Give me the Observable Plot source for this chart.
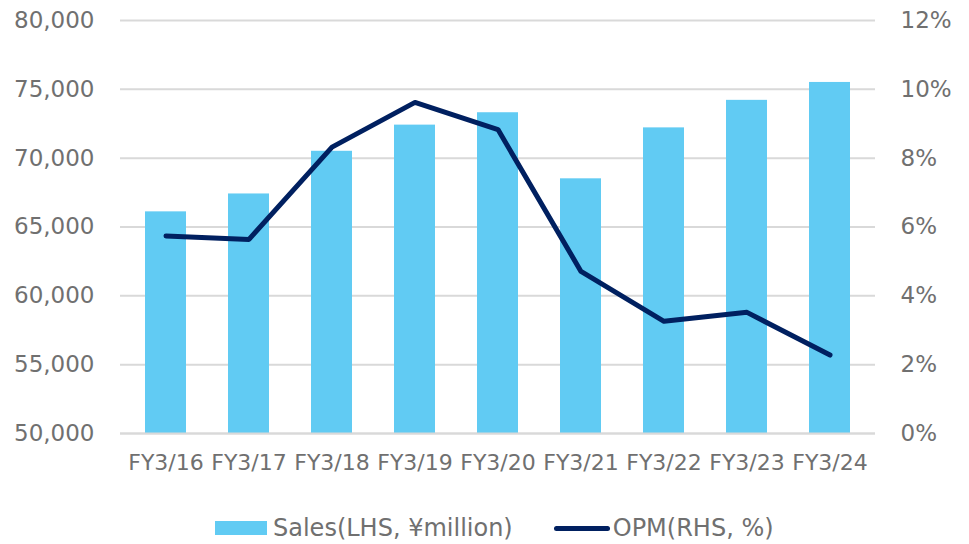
<!DOCTYPE html>
<html>
<head>
<meta charset="utf-8">
<script src="https://cdn.jsdelivr.net/npm/d3@7"></script>
<script src="https://cdn.jsdelivr.net/npm/@observablehq/plot@0.6"></script>
<style>
  html, body { margin: 0; padding: 0; background: #fff; }
  body { width: 969px; height: 544px; overflow: hidden; font-family: "DejaVu Sans", Verdana, sans-serif; }
  #chart { height: 490px; }
  #legend { display: flex; justify-content: flex-start; align-items: center; box-sizing: border-box; height: 54px; padding-top: 22px; padding-left: 215px; font-size: 24px; line-height: 30px; color: #707070; }
  .item { display: flex; align-items: center; }
  .sw-bar { width: 52px; height: 14px; background: #61cbf3; margin-right: 6px; }
  .sw-line { width: 56px; height: 5px; background: #002060; border-radius: 3px; margin-right: 3px; margin-left: 41px; }
</style>
</head>
<body>
<div id="chart"></div>
<div id="legend">
  <div class="item"><span class="sw-bar"></span><span>Sales(LHS, ¥million)</span></div>
  <div class="item"><span class="sw-line"></span><span>OPM(RHS, %)</span></div>
</div>
<script>
const categories = ["FY3/16","FY3/17","FY3/18","FY3/19","FY3/20","FY3/21","FY3/22","FY3/23","FY3/24"];
const sales = [66100, 67400, 70500, 72400, 73300, 68500, 72200, 74200, 75500];
const opm = [5.74, 5.64, 8.32, 9.62, 8.83, 4.71, 3.26, 3.52, 2.28];
const leftTicks = [50000, 55000, 60000, 65000, 70000, 75000, 80000];
const rightTicks = [0, 2, 4, 6, 8, 10, 12];

const yMin = 50000, yMax = 80000, pMax = 12;
const toY = p => yMin + p * (yMax - yMin) / pMax;

const rows = categories.map((c, i) => ({cat: c, sales: sales[i], opm: opm[i], opmY: toY(opm[i])}));

const textColor = "#707070";
const chart = Plot.plot({
  width: 969,
  height: 490,
  marginTop: 20,
  marginBottom: 57,
  marginLeft: 120,
  marginRight: 94,
  style: {fontFamily: "DejaVu Sans, Verdana, sans-serif", color: textColor, background: "#fff"},
  x: {domain: categories, paddingInner: 0.51, paddingOuter: 0.255, label: null},
  y: {domain: [yMin, yMax], label: null},
  marks: [
    Plot.gridY(leftTicks, {stroke: "#d9d9d9", strokeOpacity: 1, strokeWidth: 2}),
    Plot.barY(rows, {x: "cat", y1: yMin, y2: "sales", fill: "#61cbf3"}),
    Plot.ruleY([yMin], {stroke: "#d9d9d9", strokeWidth: 2}),
    Plot.line(rows, {x: "cat", y: "opmY", stroke: "#002060", strokeWidth: 5, strokeLinejoin: "round", strokeLinecap: "round"}),
    Plot.axisY(leftTicks, {anchor: "left", tickSize: 0, tickPadding: 26, fontSize: 23, fill: textColor, tickFormat: d => d3.format(",")(d), label: null}),
    Plot.axisY(rightTicks.map(toY), {anchor: "right", tickSize: 0, tickPadding: 25, fontSize: 23, fill: textColor, tickFormat: d => Math.round((d - yMin) * pMax / (yMax - yMin)) + "%", label: null}),
    Plot.axisX({tickSize: 0, tickPadding: 21, fontSize: 22, fill: textColor, label: null})
  ]
});
document.getElementById("chart").appendChild(chart);
</script>
</body>
</html>
